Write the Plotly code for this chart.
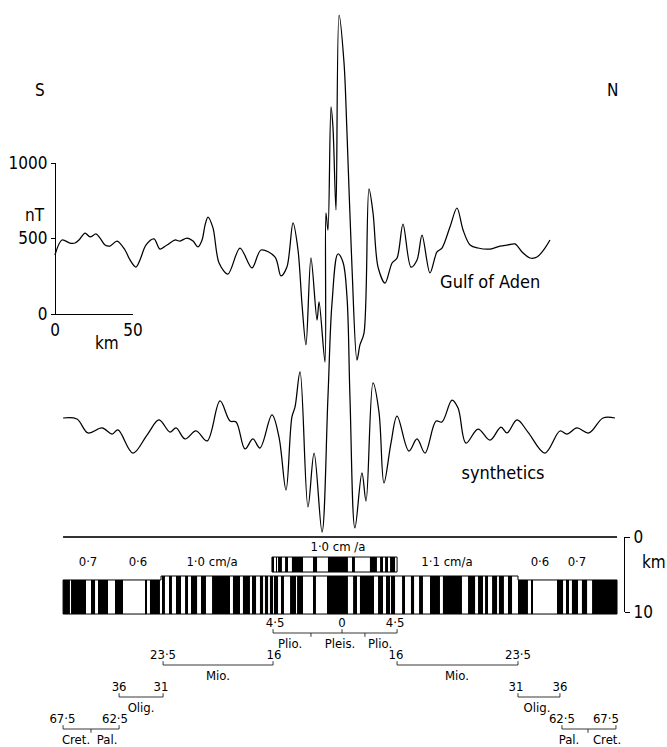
import plotly.graph_objects as go

W, H = 667, 747
FONT = "DejaVu Sans Condensed, Liberation Sans Narrow, sans-serif"

# ---------------- data ----------------
# Observed profile, Gulf of Aden: distance from ridge axis (km), anomaly (nT)
obs_km = [-184.0, -179.5, -174.4, -171.2, -168.6, -164.7, -161.5, -157.7, -155.1, -151.9,
          -148.7, -144.2, -139.1, -135.9, -132.1, -129.5, -125.6, -120.5, -116.7, -112.2,
          -107.1, -103.9, -99.4, -95.5, -92.3, -89.7, -87.8, -85.9, -82.7, -78.8,
          -73.1, -65.4, -57.7, -51.9, -42.9, -39.1, -35.3, -31.4, -28.2, -25.6,
          -23.1, -19.9, -16.0, -14.7, -10.9, -10.3, -9.0, -7.05, -5.8, -3.85,
          -1.9, 1.3, 3.2, 6.4, 9.6, 11.5, 14.1, 17.3, 19.9, 23.1,
          27.6, 32.1, 35.3, 39.1, 44.2, 48.1, 51.3, 56.4, 60.9, 64.1,
          69.2, 73.7, 77.6, 82.1, 87.2, 94.9, 101.3, 106.4, 110.9, 115.4,
          120.5, 125.0, 130.1, 133.3]
obs_nT = [391, 490, 470, 470, 490, 536, 510, 530, 503, 457,
          450, 483, 424, 358, 311, 358, 457, 497, 430, 457,
          490, 483, 503, 483, 444, 490, 589, 642, 570, 338,
          265, 437, 305, 424, 377, 252, 311, 603, 424, 60,
          -205, 371, -40, 80, -318, 669, 556, 1371, 1238, 689,
          1980, 1662, 1199, 311, -305, -205, -126, 828, 669, 311,
          205, 338, 371, 596, 311, 358, 523, 272, 411, 437,
          576, 702, 556, 457, 437, 430, 450, 457, 464, 411,
          371, 377, 437, 490]

# Synthetic profile: distance (km), anomaly (nT, relative)
syn_km = [-178.8, -169.9, -162.8, -153.8, -147.4, -143.6, -134.0, -125.0, -117.3, -110.3,
          -106.4, -100.6, -93.6, -86.5, -78.2, -71.8, -67.9, -62.2, -57.1, -52.6,
          -44.9, -40.4, -35.9, -32.1, -30.1, -26.9, -21.8, -17.9, -12.8, -9.0,
          -6.4, -2.6, 0.6, 3.2, 5.1, 8.3, 12.8, 15.4, 19.9, 23.7,
          26.9, 31.4, 35.3, 42.9, 48.1, 53.2, 60.3, 64.1, 70.5, 74.4,
          79.5, 87.2, 94.9, 101.9, 105.8, 112.2, 119.2, 130.1, 139.7, 144.2,
          150.6, 158.3, 167.3, 175.0]
syn_nT = [0, -7, -99, -66, -106, -79, -232, -113, -13, -93,
          -66, -139, -86, -152, 113, -20, -26, -205, -139, -199,
          20, -126, -477, 7, 73, 305, -589, -232, -755, 139,
          762, 1086, 1033, 801, 139, -728, -364, -550, 232, 40,
          -430, -166, 13, -219, -139, -232, -20, -26, 119, 66,
          -166, -73, -146, -60, -99, -13, -93, -232, -86, -106,
          -66, -99, 0, 0]

# Normally magnetised blocks of the main model (start km, end km)
main_blocks = [(-178.8, -174.4), (-173.7, -164.1), (-160.9, -158.3), (-156.4, -150.0),
               (-145.5, -140.4), (-126.3, -125.0), (-123.1, -116.7), (-115.4, -113.5),
               (-110.9, -109.0), (-106.4, -103.2), (-100.6, -98.7), (-96.8, -92.9),
               (-90.4, -87.2), (-83.3, -71.8), (-69.9, -65.4), (-63.5, -59.0),
               (-57.7, -55.1), (-52.6, -50.6), (-49.4, -47.4), (-46.2, -44.2),
               (-43.6, -41.0), (-39.1, -37.2), (-33.3, -29.5), (-28.8, -25.0),
               (-18.6, -16.7), (-9.6, 3.8), (7.1, 9.6), (11.5, 20.5),
               (23.1, 26.3), (28.2, 30.8), (31.4, 34.0), (38.5, 40.4),
               (44.2, 46.2), (49.4, 51.9), (56.4, 62.8), (64.7, 76.9),
               (80.8, 85.3), (87.2, 90.4), (91.7, 93.6), (96.2, 99.4),
               (100.6, 103.8), (106.4, 109.0), (112.8, 119.2), (121.2, 122.4),
               (137.8, 141.7), (143.6, 145.5), (147.4, 151.3), (153.8, 157.1),
               (160.3, 176.3)]
# Sections of the main model: edges (km) and top depth (km)
section_edges = [-178.8, -116.0, 112.8, 176.3]
section_tops = [5.73, 5.2, 5.73]
bar_bottom = 10.27

# Expanded central model (1·0 cm/a)
upper_blocks = [(-44.9, -43.6), (-42.3, -41.7), (-41.0, -38.5), (-36.5, -34.6),
                (-32.1, -25.0), (-18.6, -16.0), (-9.0, 3.8), (6.4, 8.3),
                (17.9, 22.4), (24.4, 26.3), (27.6, 29.5), (30.8, 34.0)]
upper_edges = [-44.9, 35.3]
upper_top, upper_bottom = 2.67, 4.67
sea_level_km = [-178.8, 176.3]

# Spreading-rate labels
rate_labels = ["0·7", "0·6", "1·0 cm/a", "1·1 cm/a", "0·6", "0·7"]
rate_km = [-162.8, -130.8, -83.3, 67.3, 126.9, 150.6]
upper_rate_label, upper_rate_km = "1·0 cm /a", -2.6

# Time-scale brackets (row level, start km, end km)
brk_level = [0, 1, 1, 2, 2, 3, 3]
brk_start = [-44.2, -114.7, 35.3, -142.9, 112.8, -178.8, 141.0]
brk_end = [35.3, -44.2, 112.8, -114.7, 139.7, -142.9, 175.6]
brk_mid_up = [(0, 0.0)]                                   # (level, km) extra up tick
brk_bound = [(0, -19.9), (0, 14.7), (3, -160.9), (3, 157.7)]  # epoch boundaries

age_text = ["4·5", "0", "4·5", "23·5", "16", "16", "23·5", "36", "31", "31", "36",
            "67·5", "62·5", "62·5", "67·5"]
age_km = [-42.9, 0.0, 34.0, -114.7, -43.6, 34.6, 112.8, -142.9, -116.0, 111.5, 139.7,
          -179.2, -145.5, 141.0, 169.2]
age_level = [0, 0, 0, 1, 1, 1, 1, 2, 2, 2, 2, 3, 3, 3, 3]

epoch_text = ["Plio.", "Pleis.", "Plio.", "Mio.", "Mio.", "Olig.", "Olig.",
              "Cret.", "Pal.", "Pal.", "Cret."]
epoch_km = [-33.3, -1.3, 24.4, -79.5, 73.7, -128.8, 125.0, -170.5, -150.6, 145.5, 169.9]
epoch_level = [0, 0, 0, 1, 1, 2, 2, 3, 3, 3, 3]

# ---------------- layout geometry ----------------
axis_px = 342.0
px_per_km = 1.56
obs_zero_px, syn_zero_px, px_per_nT = 314.0, 418.0, 0.151
sea_px, px_per_depth = 537.0, 7.5
row0_px, row_px = 633.0, 32.0

xr = [-axis_px / px_per_km, (W - axis_px) / px_per_km]
y_obs = [-(H - obs_zero_px) / px_per_nT, obs_zero_px / px_per_nT]
y_syn = [-(H - syn_zero_px) / px_per_nT, syn_zero_px / px_per_nT]
y_dep = [(H - sea_px) / px_per_depth, -sea_px / px_per_depth]
y_row = [(H - row0_px) / row_px, -row0_px / row_px]

fig = go.Figure()

fig.add_trace(go.Scatter(x=obs_km, y=obs_nT, mode="lines",
                         line=dict(color="black", width=1.25, shape="spline", smoothing=0.9),
                         xaxis="x", yaxis="y", hoverinfo="skip", cliponaxis=False))
fig.add_trace(go.Scatter(x=syn_km, y=syn_nT, mode="lines",
                         line=dict(color="black", width=1.25, shape="spline", smoothing=1.0),
                         xaxis="x", yaxis="y3", hoverinfo="skip", cliponaxis=False))

# sea level line
fig.add_trace(go.Scatter(x=sea_level_km, y=[0, 0], mode="lines", line=dict(color="#333", width=1.8),
                         xaxis="x", yaxis="y4", hoverinfo="skip"))


def top_for(km):
    for i in range(len(section_tops)):
        if section_edges[i] <= km < section_edges[i + 1]:
            return section_tops[i]
    return section_tops[-1]


mids = [(a + b) / 2 for a, b in main_blocks]
widths = [b - a for a, b in main_blocks]
tops = [top_for(m) for m in mids]
fig.add_trace(go.Bar(x=mids, width=widths, base=tops, y=[bar_bottom - t for t in tops],
                     marker=dict(color="black", line=dict(width=0)), xaxis="x", yaxis="y4", hoverinfo="skip"))
umids = [(a + b) / 2 for a, b in upper_blocks]
uwidths = [b - a for a, b in upper_blocks]
fig.add_trace(go.Bar(x=umids, width=uwidths, base=[upper_top] * len(umids),
                     y=[upper_bottom - upper_top] * len(umids),
                     marker=dict(color="black", line=dict(width=0)), xaxis="x", yaxis="y4", hoverinfo="skip"))

# outlines
ox, oy = [section_edges[0]], [bar_bottom]
for i, t in enumerate(section_tops):
    ox += [section_edges[i], section_edges[i + 1]]
    oy += [t, t]
ox += [section_edges[-1], section_edges[0]]
oy += [bar_bottom, bar_bottom]
fig.add_trace(go.Scatter(x=ox, y=oy, mode="lines", line=dict(color="black", width=1),
                         xaxis="x", yaxis="y4", hoverinfo="skip"))
fig.add_trace(go.Scatter(x=[upper_edges[0], upper_edges[1], upper_edges[1], upper_edges[0], upper_edges[0]],
                         y=[upper_top, upper_top, upper_bottom, upper_bottom, upper_top], mode="lines",
                         line=dict(color="black", width=1), xaxis="x", yaxis="y4", hoverinfo="skip"))

# rate labels
fig.add_trace(go.Scatter(x=rate_km, y=[3.45] * len(rate_km), mode="text", text=rate_labels,
                         textfont=dict(family=FONT, size=13, color="black"),
                         xaxis="x", yaxis="y4", hoverinfo="skip"))
fig.add_trace(go.Scatter(x=[upper_rate_km], y=[1.45], mode="text", text=[upper_rate_label],
                         textfont=dict(family=FONT, size=13, color="black"),
                         xaxis="x", yaxis="y4", hoverinfo="skip"))

# time-scale brackets
bx, by = [], []
tk = 0.12
for lv, a, b in zip(brk_level, brk_start, brk_end):
    bx += [a, a, b, b, None]
    by += [lv - tk, lv, lv, lv - tk, None]
for lv, k in brk_mid_up:
    bx += [k, k, None]
    by += [lv, lv - tk, None]
for lv, k in brk_bound:
    bx += [k, k, None]
    by += [lv, lv + tk, None]
fig.add_trace(go.Scatter(x=bx, y=by, mode="lines", line=dict(color="#222", width=0.9),
                         xaxis="x", yaxis="y5", hoverinfo="skip"))
fig.add_trace(go.Scatter(x=age_km, y=[l - 0.3 for l in age_level], mode="text", text=age_text,
                         textfont=dict(family=FONT, size=13, color="black"),
                         xaxis="x", yaxis="y5", hoverinfo="skip"))
fig.add_trace(go.Scatter(x=epoch_km, y=[l + 0.38 for l in epoch_level], mode="text", text=epoch_text,
                         textfont=dict(family=FONT, size=13, color="black"),
                         xaxis="x", yaxis="y5", hoverinfo="skip"))

# curve labels
fig.add_trace(go.Scatter(x=[95.0], y=[199], mode="text", text=["Gulf of Aden"],
                         textfont=dict(family=FONT, size=18, color="black"),
                         xaxis="x", yaxis="y", hoverinfo="skip"))
fig.add_trace(go.Scatter(x=[103.2], y=[-377], mode="text", text=["synthetics"],
                         textfont=dict(family=FONT, size=18, color="black"),
                         xaxis="x", yaxis="y3", hoverinfo="skip"))

# dummy traces so scale axes are drawn
fig.add_trace(go.Scatter(x=[0], y=[0], mode="markers", marker=dict(opacity=0),
                         xaxis="x2", yaxis="y2", hoverinfo="skip"))
fig.add_trace(go.Scatter(x=[0], y=[0], mode="markers", marker=dict(opacity=0),
                         xaxis="x", yaxis="y6", hoverinfo="skip"))

tickfont = dict(family=FONT, size=17, color="black")
hidden = dict(visible=False, showgrid=False, zeroline=False, fixedrange=True, automargin=False)
fig.update_layout(
    template="none",
    width=W, height=H, margin=dict(l=0, r=0, t=0, b=0, pad=0, autoexpand=False),
    paper_bgcolor="white", plot_bgcolor="rgba(0,0,0,0)",
    showlegend=False, barmode="overlay",
    xaxis=dict(domain=[0, 1], range=xr, **hidden),
    yaxis=dict(domain=[0, 1], range=y_obs, **hidden),
    yaxis3=dict(overlaying="y", range=y_syn, **hidden),
    yaxis4=dict(overlaying="y", range=y_dep, **hidden),
    yaxis5=dict(overlaying="y", range=y_row, **hidden),
    xaxis2=dict(domain=[55 / W, 133 / W], range=[0, 50], anchor="y2", showline=True, linecolor="black",
                linewidth=1.3, ticks="inside", ticklen=5, tickcolor="black", tickwidth=1.3, tickvals=[0, 50],
                tickfont=tickfont, showgrid=False, zeroline=False, fixedrange=True, automargin=False),
    yaxis2=dict(domain=[1 - 314 / H, 1 - 163 / H], range=[0, 1000], anchor="free", position=55 / W,
                showline=True, linecolor="black", linewidth=1.3, ticks="outside", ticklen=4, tickcolor="black",
                tickwidth=1.3, tickvals=[0, 500, 1000], tickfont=tickfont, showgrid=False, zeroline=False,
                fixedrange=True, automargin=False),
    yaxis6=dict(domain=[1 - 612 / H, 1 - 537 / H], range=[10, 0], anchor="free", position=624 / W, side="right",
                showline=True, linecolor="black", linewidth=1.2, ticks="outside", ticklen=5, tickcolor="black",
                tickwidth=1.2, tickvals=[0, 10], tickfont=tickfont, showgrid=False, zeroline=False,
                fixedrange=True, automargin=False),
    annotations=[
        dict(text="S", x=33 / W, y=1 - 78 / H, xref="paper", yref="paper", showarrow=False, font=tickfont),
        dict(text="N", x=620 / W, y=1 - 78 / H, xref="paper", yref="paper", showarrow=False, font=tickfont),
        dict(text="nT", x=23 / W, y=1 - 203 / H, xref="paper", yref="paper", showarrow=False, font=tickfont),
        dict(text="km", x=93 / W, y=1 - 343 / H, xref="paper", yref="paper", showarrow=False, font=tickfont),
        dict(text="km", x=640 / W, y=1 - 574 / H, xref="paper", yref="paper", xanchor="left",
             showarrow=False, font=tickfont),
    ],
)

fig.write_html("out.html")
